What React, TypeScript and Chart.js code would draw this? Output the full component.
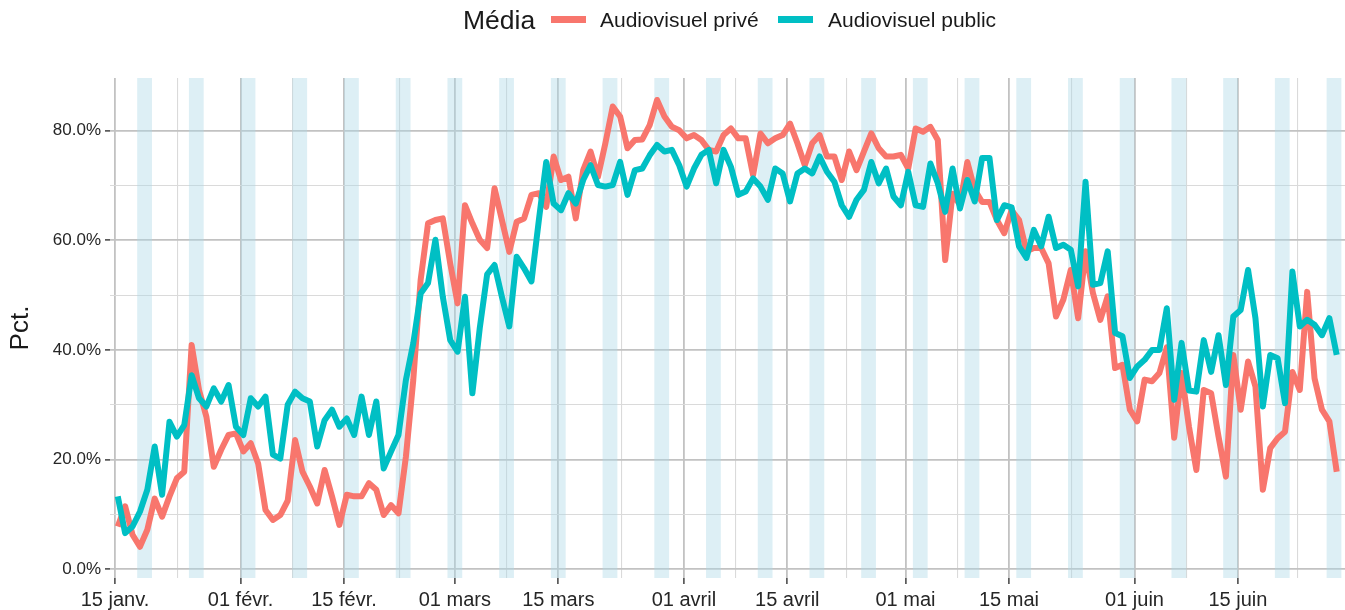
import React, { useEffect, useRef } from 'react';
import { Chart, registerables } from 'chart.js';

Chart.register(...registerables);

// ---- Data (daily values, %, from 2020-01-15) ----
const START_DATE = '2020-01-15';

const PRIVE = [
  7.8, 11.5, 6.3, 4.1, 7.2, 12.9, 9.6, 13.3, 16.6, 17.8,
  40.9, 32.7, 27.8, 18.7, 21.8, 24.5, 24.8, 21.5, 23.0, 19.3,
  10.8, 9.0, 9.9, 12.5, 23.6, 17.8, 15.1, 12.0, 18.1, 13.3,
  8.1, 13.6, 13.3, 13.3, 15.7, 14.5, 9.9, 11.7, 10.2, 20.5,
  34.5, 52.8, 63.1, 63.7, 64.0, 55.8, 48.5, 66.4, 63.1, 60.1,
  58.6, 69.5, 63.7, 57.9, 63.4, 64.0, 68.3, 68.6, 66.1, 75.3,
  71.0, 71.6, 64.0, 72.8, 76.2, 71.6, 77.7, 84.4, 82.6, 76.8,
  78.3, 78.4, 81.0, 85.6, 82.6, 80.7, 80.1, 78.6, 79.2, 78.3,
  76.5, 76.2, 79.2, 80.4, 78.6, 78.6, 71.9, 79.5, 77.7, 78.6,
  79.2, 81.3, 77.7, 73.7, 77.7, 79.2, 75.3, 75.3, 71.0, 76.2,
  72.8, 76.2, 79.5, 76.8, 75.3, 75.3, 75.6, 73.1, 80.4, 79.8,
  80.7, 78.3, 56.4, 68.5, 66.5, 74.3, 69.2, 67.0, 67.0, 63.7,
  61.3, 65.5, 63.7, 58.0, 58.6, 58.6, 55.8, 46.1, 49.2, 54.6,
  45.8, 58.0, 50.4, 45.5, 49.8, 36.7, 37.3, 29.1, 27.0, 34.6,
  34.3, 35.8, 40.5, 24.0, 35.8, 26.0, 18.1, 32.7, 32.1, 24.2,
  16.9, 39.1, 29.1, 37.9, 33.3, 14.5, 22.1, 23.9, 25.1, 36.0,
  32.7, 50.6, 34.8, 29.1, 27.0, 17.8,
];

const PUBLIC = [
  13.3, 6.6, 7.8, 10.5, 14.5, 22.4, 13.6, 26.9, 24.2, 26.3,
  35.4, 31.2, 29.7, 33.0, 30.6, 33.6, 26.0, 24.5, 31.2, 29.7,
  31.5, 20.9, 20.2, 30.0, 32.4, 31.2, 30.6, 22.4, 27.2, 29.1,
  26.0, 27.5, 24.5, 31.5, 24.5, 30.6, 18.4, 21.5, 24.5, 34.5,
  41.2, 50.3, 52.2, 60.1, 49.7, 41.8, 39.7, 49.7, 32.1, 44.0,
  53.8, 55.5, 49.7, 44.3, 57.0, 54.9, 52.5, 63.7, 74.3, 66.7,
  65.5, 68.6, 66.7, 71.0, 73.7, 70.1, 69.8, 70.1, 74.3, 68.3,
  72.8, 73.1, 75.5, 77.4, 76.2, 76.5, 73.7, 69.8, 73.1, 75.6,
  76.5, 70.4, 76.5, 73.4, 68.3, 68.9, 71.3, 69.8, 67.4, 73.1,
  72.2, 67.1, 72.2, 73.1, 72.2, 75.3, 72.5, 70.7, 66.4, 64.3,
  67.4, 69.2, 74.3, 70.4, 73.1, 68.0, 66.4, 72.5, 66.4, 66.1,
  74.0, 70.4, 65.2, 73.1, 65.8, 71.0, 67.1, 75.0, 75.0, 63.7,
  66.4, 66.0, 58.9, 56.8, 61.9, 58.9, 64.3, 58.6, 59.2, 58.3,
  51.6, 70.7, 51.9, 52.2, 58.0, 43.1, 42.5, 34.9, 37.0, 38.2,
  40.0, 40.0, 47.6, 30.9, 41.3, 32.6, 32.4, 41.8, 36.0, 42.7,
  33.6, 46.1, 47.3, 54.6, 45.8, 29.7, 39.1, 38.5, 30.3, 54.3,
  44.3, 45.5, 44.6, 42.7, 45.8, 39.1,
];

const SERIES_NAMES = ['Audiovisuel privé', 'Audiovisuel public'];
const SERIES_COLORS = ['#F8766D', '#00BFC4'];
const LEGEND_TITLE = 'Média';
const Y_TITLE = 'Pct.';

const X_TICK_DATES = [
  '2020-01-15', '2020-02-01', '2020-02-15', '2020-03-01', '2020-03-15', '2020-04-01',
  '2020-04-15', '2020-05-01', '2020-05-15', '2020-06-01', '2020-06-15',
];
const X_TICK_LABELS = [
  '15 janv.', '01 févr.', '15 févr.', '01 mars', '15 mars', '01 avril',
  '15 avril', '01 mai', '15 mai', '01 juin', '15 juin',
];
const NEXT_BREAK_DATE = '2020-07-01';
const Y_MAJOR = [0, 20, 40, 60, 80];
const Y_MINOR = [10, 30, 50, 70];

// ---- helpers ----
const DAY = 86400000;
const toUTC = (s: string) => {
  const [y, m, d] = s.split('-').map(Number);
  return Date.UTC(y, m - 1, d);
};
const dayIndex = (s: string) => Math.round((toUTC(s) - toUTC(START_DATE)) / DAY);

const POINT_OFFSET = 0.37;
const X_MIN = -0.68;
const X_MAX = 166.49;
const Y_MIN = -1.59;
const Y_MAX = 89.61;

const FONT = "'Liberation Sans', Arial, Helvetica, sans-serif";
const TEXT = '#1a1a1a';
const TICK_TEXT = '#262626';
const MAJOR_GRID = '#c2c2c2';
const MINOR_GRID = '#dadada';

export default function App() {
  const canvasRef = useRef<HTMLCanvasElement | null>(null);

  useEffect(() => {
    const canvas = canvasRef.current;
    if (!canvas) return;

    const majorX = X_TICK_DATES.map(dayIndex);
    const withNext = [...majorX, dayIndex(NEXT_BREAK_DATE)];
    const minorX: number[] = [];
    for (let i = 0; i < withNext.length - 1; i++) minorX.push((withNext[i] + withNext[i + 1]) / 2);
    const xTicks = [...majorX, ...minorX].sort((a, b) => a - b);
    const xLabel = (v: number) => {
      const i = majorX.indexOf(v);
      return i >= 0 ? X_TICK_LABELS[i] : '';
    };
    const isMajorX = (v: number) => majorX.indexOf(v) >= 0;

    const yTicks = [...Y_MAJOR, ...Y_MINOR].sort((a, b) => a - b);
    const isMajorY = (v: number) => Y_MAJOR.indexOf(v) >= 0;

    // weekend bands (Saturday -> Monday)
    const bands: number[] = [];
    const startDow = new Date(toUTC(START_DATE)).getUTCDay();
    for (let d = -7; d < 175; d++) {
      if ((((startDow + d) % 7) + 7) % 7 === 6) bands.push(d);
    }

    const bandPlugin = {
      id: 'weekendBands',
      beforeDatasetsDraw(chart: any) {
        const { ctx, chartArea, scales } = chart;
        const xs = scales.x;
        ctx.save();
        ctx.beginPath();
        ctx.rect(chartArea.left, chartArea.top, chartArea.right - chartArea.left, chartArea.bottom - chartArea.top);
        ctx.clip();
        ctx.fillStyle = 'rgba(173,216,230,0.42)';
        for (const d of bands) {
          const x0 = xs.getPixelForValue(d);
          const x1 = xs.getPixelForValue(d + 2);
          ctx.fillRect(x0, chartArea.top, x1 - x0, chartArea.bottom - chartArea.top);
        }
        ctx.restore();
      },
    };

    const mk = (vals: number[]) => vals.map((v, i) => ({ x: i + POINT_OFFSET, y: v }));

    const chart = new Chart(canvas, {
      type: 'line',
      data: {
        datasets: [
          {
            label: SERIES_NAMES[0],
            data: mk(PRIVE),
            borderColor: SERIES_COLORS[0],
            backgroundColor: SERIES_COLORS[0],
            borderWidth: 6,
            pointRadius: 0,
            tension: 0,
            borderJoinStyle: 'round',
            borderCapStyle: 'butt',
            fill: false,
            order: 1,
          },
          {
            label: SERIES_NAMES[1],
            data: mk(PUBLIC),
            borderColor: SERIES_COLORS[1],
            backgroundColor: SERIES_COLORS[1],
            borderWidth: 6,
            pointRadius: 0,
            tension: 0,
            borderJoinStyle: 'round',
            borderCapStyle: 'butt',
            fill: false,
            order: 0,
          },
        ],
      },
      options: {
        responsive: false,
        animation: false,
        events: [],
        layout: { padding: { top: 78, left: 0, right: 0, bottom: 0 } },
        plugins: {
          legend: { display: false },
          tooltip: { enabled: false },
        },
        scales: {
          x: {
            type: 'linear',
            min: X_MIN,
            max: X_MAX,
            afterBuildTicks: (axis: any) => {
              axis.ticks = xTicks.map((v) => ({ value: v }));
            },
            afterFit: (s: any) => {
              s.height = 32;
            },
            ticks: {
              autoSkip: false,
              maxRotation: 0,
              minRotation: 0,
              padding: 4,
              color: TICK_TEXT,
              font: { family: FONT, size: 20 },
              callback: (v: any) => xLabel(Number(v)),
            },
            grid: {
              color: (c: any) => (isMajorX(c.tick?.value) ? MAJOR_GRID : MINOR_GRID),
              lineWidth: (c: any) => (isMajorX(c.tick?.value) ? 1.8 : 1.1),
              drawTicks: true,
              tickLength: 6,
              tickWidth: 1.4,
              tickColor: (c: any) => (isMajorX(c.tick?.value) ? '#333333' : 'rgba(0,0,0,0)'),
            },
            border: { display: false },
          },
          y: {
            type: 'linear',
            min: Y_MIN,
            max: Y_MAX,
            afterBuildTicks: (axis: any) => {
              axis.ticks = yTicks.map((v) => ({ value: v }));
            },
            afterFit: (s: any) => {
              s.width = 110;
            },
            ticks: {
              padding: 4,
              color: TICK_TEXT,
              font: { family: FONT, size: 17 },
              callback: (v: any) => (isMajorY(Number(v)) ? Number(v).toFixed(1) + '%' : ''),
            },
            grid: {
              color: (c: any) => (isMajorY(c.tick?.value) ? MAJOR_GRID : MINOR_GRID),
              lineWidth: (c: any) => (isMajorY(c.tick?.value) ? 1.8 : 1.1),
              drawTicks: true,
              tickLength: 5,
              tickWidth: 1.4,
              tickColor: (c: any) => (isMajorY(c.tick?.value) ? '#333333' : 'rgba(0,0,0,0)'),
            },
            border: { display: false },
            title: {
              display: true,
              text: Y_TITLE,
              color: TEXT,
              font: { family: FONT, size: 26 },
              padding: { top: 5, bottom: 0 },
            },
          },
        },
      },
      plugins: [bandPlugin],
    } as any);

    return () => chart.destroy();
  }, []);

  const legendText: React.CSSProperties = {
    position: 'absolute',
    top: 0,
    height: 40,
    lineHeight: '40px',
    whiteSpace: 'nowrap',
    color: TEXT,
    fontFamily: FONT,
  };

  return (
    <div
      style={{
        position: 'fixed',
        left: 0,
        top: 0,
        width: 1345,
        height: 610,
        background: '#ffffff',
        overflow: 'hidden',
      }}
    >
      <canvas ref={canvasRef} width={1345} height={610} style={{ position: 'absolute', left: 0, top: 0 }} />
      <div style={{ ...legendText, left: 463, fontSize: 26.5 }}>{LEGEND_TITLE}</div>
      <div style={{ position: 'absolute', left: 551, top: 16, width: 35, height: 7, background: SERIES_COLORS[0] }} />
      <div style={{ ...legendText, left: 600, fontSize: 21 }}>{SERIES_NAMES[0]}</div>
      <div style={{ position: 'absolute', left: 778, top: 16, width: 35, height: 7, background: SERIES_COLORS[1] }} />
      <div style={{ ...legendText, left: 828, fontSize: 21 }}>{SERIES_NAMES[1]}</div>
    </div>
  );
}
